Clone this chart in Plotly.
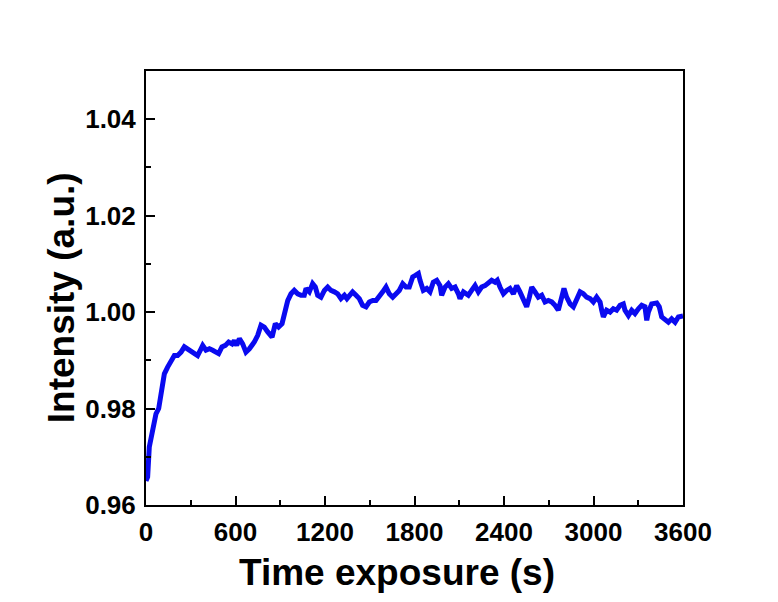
import plotly.graph_objects as go

# Exposure time (s) and normalised intensity readings
time_s = [0, 11, 22, 45, 67, 85, 101, 123, 145, 168, 190, 212, 235, 257, 279, 302, 324, 346, 369, 380,
          402, 425, 447, 469, 487, 509, 532, 554, 577, 592, 608, 626, 648, 670, 693, 726, 749, 771, 793,
          816, 845, 867, 889, 912, 934, 950, 972, 994, 1017, 1039, 1061, 1073, 1095, 1117, 1135, 1151,
          1173, 1196, 1218, 1240, 1263, 1285, 1307, 1330, 1347, 1368, 1385, 1408, 1430, 1452, 1475, 1497,
          1520, 1542, 1564, 1587, 1609, 1631, 1654, 1676, 1698, 1721, 1743, 1765, 1788, 1806, 1826, 1837,
          1859, 1882, 1904, 1926, 1949, 1971, 1982, 2005, 2027, 2049, 2072, 2094, 2105, 2128, 2161, 2183,
          2206, 2228, 2250, 2273, 2295, 2317, 2340, 2355, 2373, 2396, 2418, 2440, 2463, 2485, 2507, 2530,
          2552, 2570, 2586, 2608, 2630, 2653, 2675, 2697, 2720, 2742, 2764, 2787, 2802, 2820, 2843, 2865,
          2887, 2910, 2932, 2954, 2977, 2999, 3021, 3044, 3055, 3066, 3088, 3111, 3133, 3155, 3178, 3200,
          3211, 3234, 3256, 3278, 3301, 3323, 3345, 3357, 3368, 3390, 3424, 3441, 3457, 3479, 3502, 3524,
          3547, 3569, 3591, 3600]
intensity = [0.9650, 0.9658, 0.9720, 0.9754, 0.9789, 0.9800, 0.9838, 0.9872, 0.9886, 0.9897, 0.9910,
             0.9910, 0.9917, 0.9928, 0.9924, 0.9921, 0.9917, 0.9910, 0.9924, 0.9931, 0.9921, 0.9924,
             0.9921, 0.9917, 0.9914, 0.9928, 0.9931, 0.9938, 0.9934, 0.9941, 0.9931, 0.9945, 0.9934,
             0.9917, 0.9924, 0.9938, 0.9952, 0.9973, 0.9969, 0.9959, 0.9948, 0.9976, 0.9969, 0.9976,
             1.0011, 1.0024, 1.0038, 1.0045, 1.0038, 1.0035, 1.0035, 1.0049, 1.0042, 1.0059, 1.0052,
             1.0035, 1.0031, 1.0045, 1.0052, 1.0045, 1.0042, 1.0038, 1.0028, 1.0035, 1.0028, 1.0038,
             1.0042, 1.0035, 1.0028, 1.0014, 1.0011, 1.0021, 1.0024, 1.0024, 1.0031, 1.0042, 1.0052,
             1.0038, 1.0031, 1.0038, 1.0045, 1.0059, 1.0052, 1.0052, 1.0073, 1.0076, 1.0080, 1.0066,
             1.0045, 1.0049, 1.0042, 1.0062, 1.0066, 1.0055, 1.0035, 1.0052, 1.0059, 1.0049, 1.0052,
             1.0038, 1.0028, 1.0042, 1.0035, 1.0045, 1.0055, 1.0042, 1.0052, 1.0055, 1.0059, 1.0066,
             1.0062, 1.0066, 1.0052, 1.0038, 1.0045, 1.0049, 1.0038, 1.0055, 1.0042, 1.0024, 1.0011,
             1.0031, 1.0052, 1.0042, 1.0031, 1.0035, 1.0021, 1.0024, 1.0021, 1.0014, 1.0004, 1.0031,
             1.0049, 1.0031, 1.0017, 1.0011, 1.0024, 1.0042, 1.0038, 1.0031, 1.0028, 1.0021, 1.0031,
             1.0021, 1.0004, 0.9990, 1.0004, 1.0000, 1.0007, 1.0004, 1.0014, 1.0017, 1.0004, 0.9993,
             1.0004, 0.9997, 1.0007, 1.0014, 1.0011, 0.9983, 1.0000, 1.0017, 1.0019, 1.0011, 0.9990,
             0.9986, 0.9979, 0.9986, 0.9979, 0.9990, 0.9993, 0.9992]

x_ticks = [0, 600, 1200, 1800, 2400, 3000, 3600]
y_ticks = [0.96, 0.98, 1.00, 1.02, 1.04]
y_tick_text = ["0.96", "0.98", "1.00", "1.02", "1.04"]

x_title = "Time exposure (s)"
y_title = "Intensity (a.u.)"

font_family = "Liberation Sans, Arial, sans-serif"

fig = go.Figure(
    go.Scatter(
        x=time_s, y=intensity, mode="lines",
        line=dict(color="#0a0af0", width=5),
        showlegend=False,
    )
)

axis_common = dict(
    showline=True, linecolor="black", linewidth=2, mirror=True,
    ticks="inside", ticklen=9, tickwidth=2, tickcolor="black",
    showgrid=False, zeroline=False,
    tickfont=dict(family=font_family, size=26, color="black", weight="bold"),
)

fig.update_xaxes(
    range=[0, 3600], tickvals=x_ticks,
    minor=dict(dtick=300, ticks="inside", ticklen=5, tickwidth=2, tickcolor="black"),
    ticklabelstandoff=3,
    **axis_common,
)
fig.update_yaxes(
    range=[0.96, 1.05], tickvals=y_ticks, ticktext=y_tick_text,
    minor=dict(dtick=0.01, ticks="inside", ticklen=5, tickwidth=2, tickcolor="black"),
    ticklabelstandoff=3,
    **axis_common,
)

# Axis titles placed as paper-anchored annotations
title_font = dict(family=font_family, size=37, color="black", weight="bold")
fig.add_annotation(text=x_title, xref="paper", yref="paper", x=0.467, y=-0.155,
                   xanchor="center", yanchor="middle", showarrow=False, font=title_font)
fig.add_annotation(text=y_title, xref="paper", yref="paper", x=-0.156, y=0.477,
                   xanchor="center", yanchor="middle", textangle=-90, showarrow=False,
                   font=title_font)

fig.update_layout(
    width=778, height=602,
    margin=dict(l=146, r=95, t=71, b=97, autoexpand=False),
    paper_bgcolor="white", plot_bgcolor="white",
)

fig.write_html("out.html")
